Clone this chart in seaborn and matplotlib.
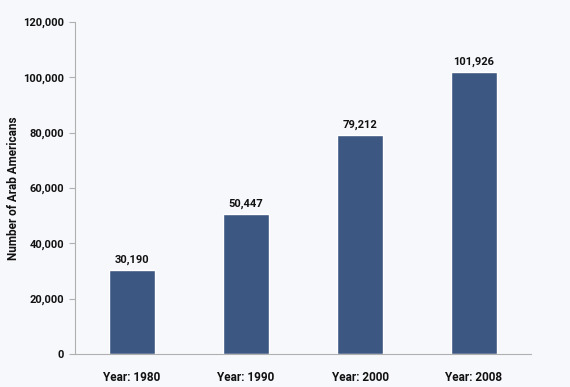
import matplotlib
matplotlib.use("Agg")
import matplotlib.pyplot as plt
import pandas as pd
import seaborn as sns

years = ["Year: 1980", "Year: 1990", "Year: 2000", "Year: 2008"]
counts = [30190, 50447, 79212, 101926]
y_ticks = [0, 20000, 40000, 60000, 80000, 100000, 120000]

df = pd.DataFrame({"year": years, "count": counts})

sns.set_style("white")
plt.rcParams["font.family"] = ["Roboto", "DejaVu Sans"]

bg = "#f7f8fc"
bar_color = "#3d5783"
axis_color = "#b0b0b0"

fig = plt.figure(figsize=(5.7, 3.87), dpi=100, facecolor=bg)
ax = fig.add_axes([0.1316, 0.0853, 0.8, 0.8579], facecolor=bg)

sns.barplot(data=df, x="year", y="count", color=bar_color, width=0.4,
            saturation=1, ax=ax)

# value labels above bars
for i, v in enumerate(counts):
    ax.text(i, v + 1800, f"{v:,}", ha="center", va="bottom",
            fontsize=8, fontweight="bold", color="#111111")

ax.set_xlim(-0.5, 3.5)
ax.set_ylim(0, 120000)
ax.set_yticks(y_ticks)
ax.set_yticklabels([f"{t:,}" for t in y_ticks], fontsize=8, fontweight="bold")
ax.set_xticks(range(len(years)))
ax.set_xticklabels(years, fontsize=8.5, fontweight="bold")
ax.set_xticks([0.5, 1.5, 2.5, 3.5], minor=True)

ax.tick_params(axis="x", which="major", length=0, pad=12, labelcolor="#111111")
ax.tick_params(axis="x", which="minor", length=4, color=axis_color, direction="out")
ax.tick_params(axis="y", length=4, color=axis_color, direction="out", left=True,
               pad=4, labelcolor="#111111")

ax.set_xlabel("")
ax.set_ylabel("Number of Arab Americans", fontsize=8.5, fontweight="bold",
              labelpad=2, color="#111111")

for side in ["top", "right"]:
    ax.spines[side].set_visible(False)
for side in ["left", "bottom"]:
    ax.spines[side].set_color(axis_color)
    ax.spines[side].set_linewidth(0.8)

fig.savefig("out.png", dpi=100, facecolor=bg)
